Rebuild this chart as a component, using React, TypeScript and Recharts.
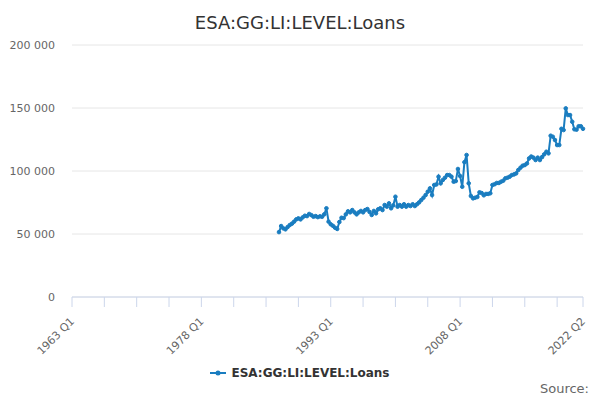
import React from "react";
import { LineChart, Line, XAxis, YAxis, CartesianGrid, Legend } from "recharts";

const SERIES_NAME = "ESA:GG:LI:LEVEL:Loans";
const FIRST_YEAR = 1963;
const LAST_YEAR = 2022;
const LAST_QUARTER = 2;

// quarterly categories 1963 Q1 .. 2022 Q2
const quarters: string[] = [];
for (let y = FIRST_YEAR; y <= LAST_YEAR; y++) {
  for (let q = 1; q <= 4; q++) {
    if (y === LAST_YEAR && q > LAST_QUARTER) break;
    quarters.push(`${y} Q${q}`);
  }
}

const firstDataQuarter = "1987 Q1";

// values from 1987 Q1 to 2022 Q2
const loans: number[] = [
  51500, 56300, 54500, 53700, 55500, 57100, 58200, 59800, 61600, 62400,
  61600, 63200, 64500, 64200, 65900, 65000, 63700, 64200, 63400, 64000,
  63700, 65600, 70400, 59800, 57700, 56500, 55000, 54000, 59500, 62900,
  62600, 65600, 68000, 67200, 69000, 67200, 65600, 67200, 68300, 67200,
  69000, 69800, 67500, 65100, 68300, 66400, 69600, 70400, 69000, 73000,
  71700, 74300, 70400, 72700, 79600, 71700, 73000, 71700, 73600, 71700,
  73000, 72200, 73600, 72200, 73600, 75100, 77000, 78800, 80900, 83600,
  86200, 80900, 88900, 89300, 95500, 90200, 92900, 94700, 96800, 96800,
  95500, 91500, 92000, 101600, 96000, 87500, 107000, 112700, 90200, 80200,
  78300, 78800, 79400, 83100, 82500, 80700, 81800, 81800, 82300, 88900,
  89500, 90500, 90500, 91500, 92300, 94200, 94700, 95500, 96800, 97300,
  98100, 100800, 102600, 104200, 104700, 106000, 110000, 111500, 110600, 108700,
  110600, 108700, 111000, 113200, 115300, 114000, 128000, 127200, 124600, 120600,
  120600, 133500, 132500, 149700, 144400, 144400, 139100, 133100, 132800, 135500,
  135500, 133500,
];

const tickLabels = ["1963 Q1", "1978 Q1", "1993 Q1", "2008 Q1", "2022 Q2"];
const yTicks = [0, 50000, 100000, 150000, 200000];

const startIdx = quarters.indexOf(firstDataQuarter);
const data = loans.map((v, k) => ({ i: startIdx + k, q: quarters[startIdx + k], v }));

const lastIdx = quarters.length - 1;
const xTicks: number[] = [];
for (let t = 0; t < lastIdx; t += 15) xTicks.push(t);
xTicks.push(lastIdx);

const COLOR = "#1a7dc0";
const FONT = "'DejaVu Sans', sans-serif";

const fmt = (v: number) => String(v).replace(/\B(?=(\d{3})+(?!\d))/g, " ");

const XTick = (props: any) => {
  const { x, y, payload } = props;
  const label = quarters[payload.value];
  if (!tickLabels.includes(label)) return <g />;
  const tx = x + 3;
  const ty = y + 13;
  return (
    <text
      x={tx}
      y={ty}
      textAnchor="end"
      transform={`rotate(-45, ${tx}, ${ty})`}
      fill="#666666"
      fontSize={11}
      fontFamily={FONT}
    >
      {label}
    </text>
  );
};

const LegendContent = (props: any) => {
  const { payload } = props;
  return (
    <div style={{ display: "flex", justifyContent: "center", alignItems: "center" }}>
      {(payload || []).map((p: any) => (
        <div key={p.value} style={{ display: "flex", alignItems: "center" }}>
          <svg width={16} height={12}>
            <line x1={0} y1={6} x2={16} y2={6} stroke={COLOR} strokeWidth={2} />
            <circle cx={8} cy={6} r={2.5} fill={COLOR} />
          </svg>
          <span
            style={{
              marginLeft: 5,
              fontFamily: FONT,
              fontSize: 12,
              fontWeight: "bold",
              color: "#333333",
            }}
          >
            {p.value}
          </span>
        </div>
      ))}
    </div>
  );
};

export default function App() {
  return (
    <div style={{ position: "absolute", left: 0, top: 0, width: 600, height: 400, background: "#fff" }}>
      <div
        style={{
          position: "absolute",
          top: 12,
          left: 0,
          width: 600,
          textAlign: "center",
          fontFamily: FONT,
          fontSize: 18,
          lineHeight: "22px",
          color: "#333333",
        }}
      >
        {SERIES_NAME}
      </div>
      <LineChart width={600} height={400} data={data} margin={{ top: 45, right: 17, bottom: 43, left: 0 }}>
        <CartesianGrid horizontal vertical={false} stroke="#e6e6e6" />
        <XAxis
          dataKey="i"
          type="number"
          domain={[0, lastIdx]}
          ticks={xTicks}
          interval={0}
          height={60}
          axisLine={{ stroke: "#ccd6eb" }}
          tickLine={{ stroke: "#ccd6eb" }}
          tickSize={10}
          tick={<XTick />}
          allowDecimals={false}
        />
        <YAxis
          type="number"
          domain={[0, 200000]}
          ticks={yTicks}
          width={72}
          axisLine={false}
          tickLine={false}
          tickSize={0}
          tickMargin={17}
          tickFormatter={fmt}
          tick={{ fill: "#666666", fontSize: 11, fontFamily: FONT }}
        />
        <Legend
          layout="horizontal"
          verticalAlign="middle"
          align="center"
          wrapperStyle={{ top: 366, left: 0, width: 600 }}
          content={<LegendContent />}
        />
        <Line
          type="linear"
          dataKey="v"
          name={SERIES_NAME}
          stroke={COLOR}
          strokeWidth={2}
          dot={{ r: 1.8, fill: COLOR, stroke: COLOR, strokeWidth: 1 }}
          isAnimationActive={false}
        />
      </LineChart>
      <div
        style={{
          position: "absolute",
          top: 381,
          right: 11,
          fontFamily: FONT,
          fontSize: 13,
          color: "#666666",
          lineHeight: "16px",
        }}
      >
        Source:
      </div>
    </div>
  );
}
